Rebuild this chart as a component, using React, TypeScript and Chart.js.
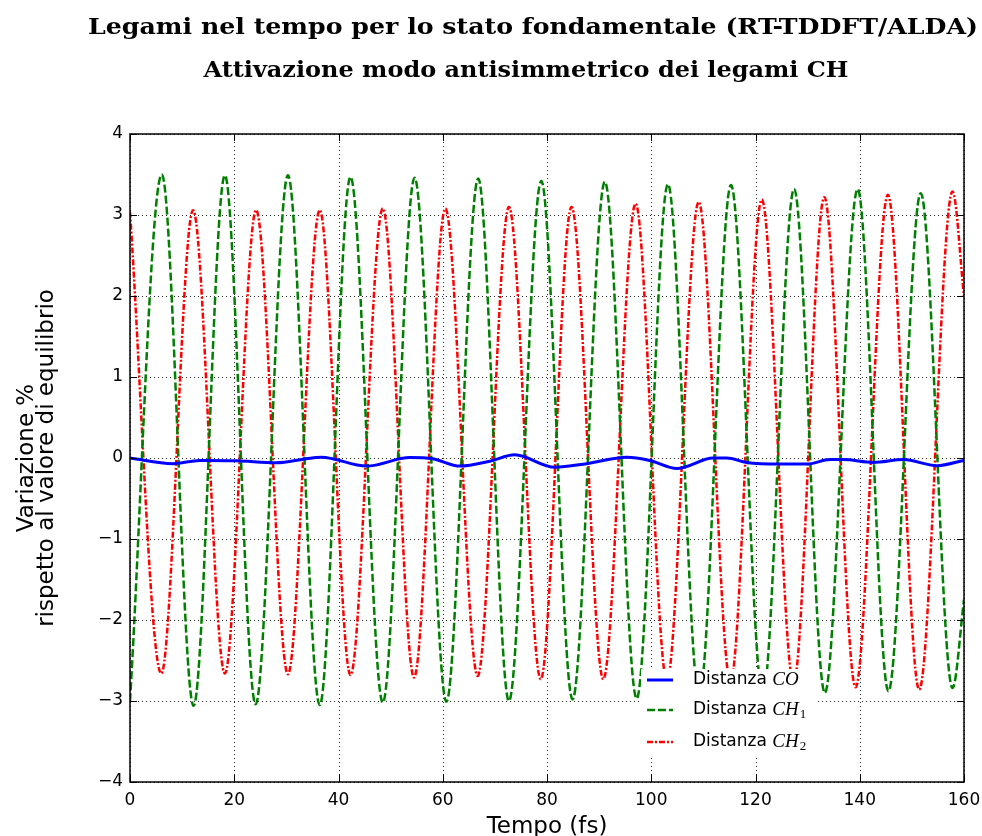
import React, { useEffect, useRef } from 'react';
import { Chart, registerables } from 'chart.js';

Chart.register(...registerables);

// ---- Data ----
const coTimes = [0, 8.2, 13.4, 20.4, 28.1, 33.8, 36.7, 45.4, 53.7, 58.1, 63.3, 69.0, 73.8, 81.5, 87.6, 95.3, 99.7, 104.9, 111.9, 114.5, 118.3, 124.7, 129.8, 134.3, 136.8, 142.6, 148.4, 154.8, 160];
const coValues = [0.0, -0.07, -0.03, -0.035, -0.06, -0.01, 0.01, -0.1, 0.005, -0.01, -0.1, -0.04, 0.04, -0.115, -0.07, 0.01, -0.03, -0.13, 0.0, 0.0, -0.055, -0.075, -0.075, -0.02, -0.02, -0.055, -0.02, -0.095, -0.03];

const ch1Times = [0, 6.1, 12.2, 18.2, 24.1, 30.3, 36.4, 42.3, 48.5, 54.6, 60.7, 66.8, 72.7, 78.9, 84.9, 91.1, 97.2, 103.2, 109.2, 115.3, 121.4, 127.4, 133.3, 139.6, 145.5, 151.7, 157.8, 160];
const ch1Values = [-3.0, 3.5, -3.06, 3.49, -3.04, 3.49, -3.05, 3.47, -3.02, 3.46, -3.01, 3.45, -3.0, 3.42, -2.98, 3.41, -2.97, 3.38, -2.95, 3.37, -2.93, 3.32, -2.9, 3.32, -2.88, 3.27, -2.84, -1.75];

const ch2Times = [0, 6.0, 12.1, 18.2, 24.2, 30.3, 36.4, 42.3, 48.5, 54.5, 60.5, 66.7, 72.7, 78.8, 84.7, 90.8, 97.0, 103.0, 109.1, 115.2, 121.2, 127.3, 133.2, 139.2, 145.4, 151.4, 157.8, 160];
const ch2Values = [3.04, -2.66, 3.06, -2.66, 3.06, -2.67, 3.06, -2.68, 3.08, -2.71, 3.08, -2.69, 3.1, -2.73, 3.1, -2.73, 3.14, -2.75, 3.16, -2.76, 3.19, -2.78, 3.22, -2.83, 3.25, -2.86, 3.29, 2.0];

const xTicks = [0, 20, 40, 60, 80, 100, 120, 140, 160];
const yTicks = [-4, -3, -2, -1, 0, 1, 2, 3, 4];

const titleLines = [
  'Legami nel tempo per lo stato fondamentale (RT-TDDFT/ALDA)',
  'Attivazione modo antisimmetrico dei legami CH',
];
const xLabel = 'Tempo (fs)';
const yLabelLines = ['Variazione %', 'rispetto al valore di equilibrio'];
const legendPrefix = 'Distanza ';
const legendMath = [
  { main: 'CO', sub: '' },
  { main: 'CH', sub: '1' },
  { main: 'CH', sub: '2' },
];

const COLORS = ['#0000ff', '#008000', '#ff0000'];
const WIDTHS = [3, 2.5, 2.5];
const DASHES: number[][] = [[], [8, 3], [6, 2, 2, 2]];

const fmt = (v: number) => (v < 0 ? '\u2212' + Math.abs(v) : String(v));

function drawFit(ctx: CanvasRenderingContext2D, text: string, cx: number, baseline: number, width: number, font: string) {
  ctx.save();
  ctx.font = font;
  const w = ctx.measureText(text).width;
  const s = width / w;
  ctx.translate(cx, baseline);
  ctx.scale(s, 1);
  ctx.textAlign = 'center';
  ctx.textBaseline = 'alphabetic';
  ctx.fillText(text, 0, 0);
  ctx.restore();
}

const decorPlugin = {
  id: 'decor',
  beforeDatasetsDraw(chart: any) {
    const { ctx, chartArea } = chart;
    const xs = chart.scales.x;
    const ys = chart.scales.y;
    ctx.save();
    ctx.strokeStyle = 'rgba(0,0,0,0.85)';
    ctx.lineWidth = 1;
    ctx.setLineDash([1, 3]);
    for (const v of xTicks) {
      const px = Math.round(xs.getPixelForValue(v)) + 0.5;
      ctx.beginPath();
      ctx.moveTo(px, chartArea.top);
      ctx.lineTo(px, chartArea.bottom);
      ctx.stroke();
    }
    for (const v of yTicks) {
      const py = Math.round(ys.getPixelForValue(v)) + 0.5;
      ctx.beginPath();
      ctx.moveTo(chartArea.left, py);
      ctx.lineTo(chartArea.right, py);
      ctx.stroke();
    }
    ctx.restore();
  },
  afterDatasetsDraw(chart: any) {
    const { ctx, chartArea } = chart;
    const xs = chart.scales.x;
    const ys = chart.scales.y;
    const { left, right, top, bottom } = chartArea;

    // Legend (white box, no border)
    ctx.save();
    ctx.fillStyle = '#ffffff';
    ctx.fillRect(641, 669, 174, 88);
    const rowY = [680, 710, 742];
    for (let i = 0; i < 3; i++) {
      ctx.strokeStyle = COLORS[i];
      ctx.lineWidth = WIDTHS[i];
      ctx.setLineDash(DASHES[i]);
      ctx.beginPath();
      ctx.moveTo(647, rowY[i]);
      ctx.lineTo(673, rowY[i]);
      ctx.stroke();
      ctx.setLineDash([]);
      ctx.fillStyle = '#000';
      ctx.textBaseline = 'middle';
      ctx.textAlign = 'left';
      ctx.font = '17px "DejaVu Sans"';
      ctx.fillText(legendPrefix, 693, rowY[i]);
      const pw = ctx.measureText(legendPrefix).width;
      ctx.font = 'italic 19px "Liberation Serif"';
      ctx.fillText(legendMath[i].main, 693 + pw, rowY[i]);
      const mw = ctx.measureText(legendMath[i].main).width;
      if (legendMath[i].sub) {
        ctx.font = '13px "Liberation Serif"';
        ctx.fillText(legendMath[i].sub, 693 + pw + mw + 1, rowY[i] + 5);
      }
    }
    ctx.restore();

    // Frame
    ctx.save();
    ctx.strokeStyle = '#000';
    ctx.lineWidth = 1.5;
    ctx.setLineDash([]);
    ctx.strokeRect(left, top, right - left, bottom - top);
    // inward ticks on all sides
    ctx.lineWidth = 1;
    const tl = 7;
    for (const v of xTicks) {
      const px = Math.round(xs.getPixelForValue(v)) + 0.5;
      ctx.beginPath();
      ctx.moveTo(px, bottom);
      ctx.lineTo(px, bottom - tl);
      ctx.moveTo(px, top);
      ctx.lineTo(px, top + tl);
      ctx.stroke();
    }
    for (const v of yTicks) {
      const py = Math.round(ys.getPixelForValue(v)) + 0.5;
      ctx.beginPath();
      ctx.moveTo(left, py);
      ctx.lineTo(left + tl, py);
      ctx.moveTo(right, py);
      ctx.lineTo(right - tl, py);
      ctx.stroke();
    }
    ctx.restore();

    // Titles
    ctx.save();
    ctx.fillStyle = '#000';
    drawFit(ctx, titleLines[0], 533, 34, 890, 'bold 23px "DejaVu Serif"');
    drawFit(ctx, titleLines[1], 526, 77, 645, 'bold 23px "DejaVu Serif"');

    // x label
    ctx.font = '23px "DejaVu Sans"';
    ctx.textAlign = 'center';
    ctx.textBaseline = 'alphabetic';
    ctx.fillText(xLabel, (left + right) / 2, 833);

    // y label (rotated)
    const cy = (top + bottom) / 2;
    ctx.translate(0, cy);
    ctx.rotate(-Math.PI / 2);
    ctx.fillText(yLabelLines[0], 0, 33);
    ctx.fillText(yLabelLines[1], 0, 53);
    ctx.restore();
  },
};

export default function App() {
  const ref = useRef<HTMLCanvasElement>(null);
  useEffect(() => {
    document.body.style.margin = '0';
    const canvas = ref.current!;
    const mk = (times: number[], values: number[]) => times.map((t, i) => ({ x: t, y: values[i] }));
    const labels = ['CO', 'CH1', 'CH2'];
    const series = [mk(coTimes, coValues), mk(ch1Times, ch1Values), mk(ch2Times, ch2Values)];
    const chart = new Chart(canvas, {
      type: 'line',
      data: {
        datasets: series.map((d, i) => ({
          label: labels[i],
          data: d,
          borderColor: COLORS[i],
          backgroundColor: COLORS[i],
          borderWidth: WIDTHS[i],
          borderDash: DASHES[i],
          pointRadius: 0,
          fill: false,
          cubicInterpolationMode: 'monotone' as const,
        })),
      },
      options: {
        responsive: false,
        animation: false,
        devicePixelRatio: 1,
        layout: { padding: { left: 0, right: 18, top: 134, bottom: 0 } },
        scales: {
          x: {
            type: 'linear',
            min: 0,
            max: 160,
            afterFit: (s: any) => { s.height = 54; s.paddingLeft = 0; s.paddingRight = 0; },
            afterBuildTicks: (s: any) => { s.ticks = xTicks.map((v) => ({ value: v })); },
            grid: { display: false, drawTicks: false },
            border: { display: false },
            ticks: {
              font: { family: 'DejaVu Sans', size: 17 },
              color: '#000',
              padding: 8,
              maxRotation: 0,
              autoSkip: false,
              callback: (v: any) => fmt(Number(v)),
            },
          },
          y: {
            type: 'linear',
            min: -4,
            max: 4,
            afterFit: (s: any) => { s.width = 130; s.paddingTop = 0; s.paddingBottom = 0; },
            afterBuildTicks: (s: any) => { s.ticks = yTicks.map((v) => ({ value: v })); },
            grid: { display: false, drawTicks: false },
            border: { display: false },
            ticks: {
              font: { family: 'DejaVu Sans', size: 17 },
              color: '#000',
              padding: 7,
              autoSkip: false,
              callback: (v: any) => fmt(Number(v)),
            },
          },
        },
        plugins: {
          legend: { display: false },
          tooltip: { enabled: false },
          title: { display: false },
        },
      },
      plugins: [decorPlugin],
    } as any);
    return () => chart.destroy();
  }, []);
  return (
    <div style={{ position: 'absolute', left: 0, top: 0, width: 982, height: 836 }}>
      <canvas ref={ref} width={982} height={836} style={{ display: 'block', width: 982, height: 836 }} />
    </div>
  );
}
